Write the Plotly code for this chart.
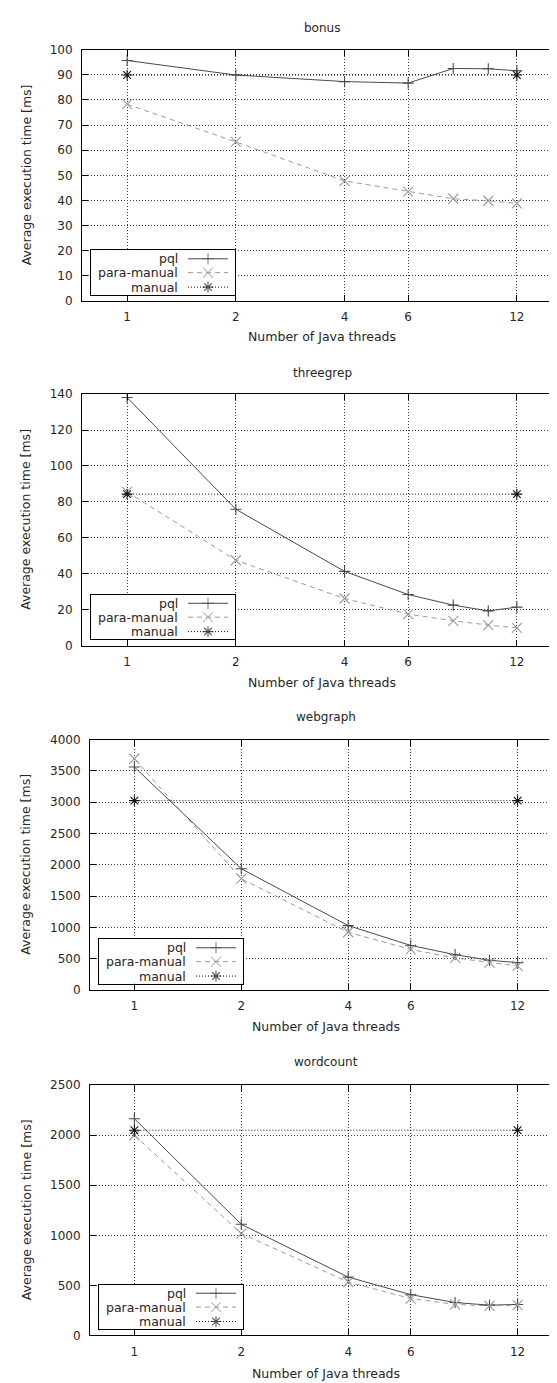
import math
import plotly.graph_objects as go

# ---------------- data ----------------
threads = [1, 2, 4, 6, 8, 10, 12]
manual_threads = [1, 12]
x_tickvals = [1, 2, 4, 6, 12]
x_ticktext = ["1", "2", "4", "6", "12"]

panel_titles = ["bonus", "threegrep", "webgraph", "wordcount"]
series_names = ["pql", "para-manual", "manual"]

bonus_pql = [95.7, 89.9, 87.3, 86.7, 92.5, 92.4, 91.6]
bonus_para = [78.3, 63.3, 47.8, 43.5, 40.7, 39.9, 38.9]
bonus_manual = [89.9, 89.9]

threegrep_pql = [138.1, 75.9, 41.3, 28.4, 22.5, 19.3, 21.4]
threegrep_para = [85.6, 47.5, 26.2, 17.5, 13.8, 11.4, 9.9]
threegrep_manual = [84.3, 84.3]

webgraph_pql = [3562, 1937, 1029, 712, 565, 475, 438]
webgraph_para = [3694, 1778, 923, 649, 512, 438, 385]
webgraph_manual = [3025, 3025]

wordcount_pql = [2164, 1110, 583, 408, 329, 303, 310]
wordcount_para = [1999, 1018, 534, 369, 310, 296, 303]
wordcount_manual = [2049, 2049]

y_max = [100, 140, 4000, 2500]
y_dtick = [10, 20, 500, 500]

x_label = "Number of Java threads"
y_label = "Average execution time [ms]"

# ---------------- layout geometry (pixels) ----------------
W, H = 557, 1383
plot_left = [74, 74, 82, 82]
plot_right = [554, 554, 554, 554]
plot_top = [35, 383, 732, 1081]
plot_bottom = [289, 637, 985, 1334]
title_y = [13, 362, 709, 1058]
xlabel_y = [325, 674, 1022, 1372]
ylabel_x = 18

LEG_W, LEG_H = 144, 45
LEG_DX, LEG_DY = 8.5, 6.5
LEG_TEXT_X = 89.5
LEG_LINE = (97.5, 137.5)
LEG_ROWS = [36.2, 22.2, 7.6]

FONT = "DejaVu Sans"
TXT = "#262626"
C_PQL = "#4a4a4a"
C_PARA = "#9a9a9a"
C_MAN = "#111111"
GRID = "#3c3c3c"

styles = [
    dict(color=C_PQL, dash="solid", symbol="cross-thin", size=8),
    dict(color=C_PARA, dash="5px,4px", symbol="x-thin", size=10),
    dict(color=C_MAN, dash="1px,2px", symbol="asterisk", size=9),
]

def fx(p):
    return p / W

def fy(p):
    return 1 - p / H

data_sets = [
    (bonus_pql, bonus_para, bonus_manual),
    (threegrep_pql, threegrep_para, threegrep_manual),
    (webgraph_pql, webgraph_para, webgraph_manual),
    (wordcount_pql, wordcount_para, wordcount_manual),
]

fig = go.Figure()
layout = dict(
    width=W, height=H,
    margin=dict(l=0, r=0, t=0, b=0),
    paper_bgcolor="white", plot_bgcolor="white",
    showlegend=False,
    font=dict(family=FONT, size=12.5, color=TXT),
)
annotations = []

xr = [math.log10(0.75), math.log10(16)]

for i in range(4):
    n = i + 1
    ln = i + 5
    xs = "" if n == 1 else str(n)
    ys = "" if n == 1 else str(n)
    pql, para, man = data_sets[i]

    layout["xaxis" + xs] = dict(
        domain=[fx(plot_left[i]), fx(plot_right[i])],
        anchor="y" + ys, type="log", range=xr,
        tickmode="array", tickvals=x_tickvals, ticktext=x_ticktext,
        ticks="inside", ticklen=6, tickcolor="#000", tickwidth=1,
        showline=True, linecolor="#000", linewidth=1, mirror="ticks",
        showgrid=True, gridcolor=GRID, gridwidth=1, griddash="1px,2px",
        zeroline=False, tickfont=dict(family=FONT, size=12, color=TXT),
        ticklabelstandoff=5, fixedrange=True,
    )
    layout["yaxis" + ys] = dict(
        domain=[fy(plot_bottom[i]), fy(plot_top[i])],
        anchor="x" + xs, range=[0, y_max[i]],
        tickmode="linear", tick0=0, dtick=y_dtick[i], tickformat="d",
        ticks="inside", ticklen=6, tickcolor="#000", tickwidth=1,
        showline=True, linecolor="#000", linewidth=1, mirror="ticks",
        showgrid=True, gridcolor=GRID, gridwidth=1, griddash="1px,2px",
        zeroline=False, tickfont=dict(family=FONT, size=12, color=TXT),
        ticklabelstandoff=6, fixedrange=True,
    )

    series = [(threads, pql), (threads, para), (manual_threads, man)]
    for k, (xv, yv) in enumerate(series):
        st = styles[k]
        fig.add_trace(go.Scatter(
            x=xv, y=yv, mode="lines+markers", name=series_names[k],
            xaxis="x" + xs, yaxis="y" + ys,
            line=dict(color=st["color"], width=1, dash=st["dash"]),
            marker=dict(symbol=st["symbol"], size=st["size"],
                        color=st["color"],
                        line=dict(color=st["color"], width=1.1)),
            hoverinfo="skip",
        ))

    # legend box (its own small subplot, opaque)
    lx0 = plot_left[i] + LEG_DX
    ly1 = plot_bottom[i] - LEG_DY
    layout["xaxis%d" % ln] = dict(
        domain=[fx(lx0), fx(lx0 + LEG_W)], anchor="y%d" % ln,
        range=[0, LEG_W], showline=True, mirror=True, linecolor="#000",
        linewidth=1, showgrid=False, zeroline=False, showticklabels=False,
        ticks="", fixedrange=True,
    )
    layout["yaxis%d" % ln] = dict(
        domain=[fy(ly1), fy(ly1 - LEG_H)], anchor="x%d" % ln,
        range=[0, LEG_H], showline=True, mirror=True, linecolor="#000",
        linewidth=1, showgrid=False, zeroline=False, showticklabels=False,
        ticks="", fixedrange=True,
    )
    for k in range(3):
        st = styles[k]
        mid = (LEG_LINE[0] + LEG_LINE[1]) / 2
        fig.add_trace(go.Scatter(
            x=[LEG_LINE[0], mid, LEG_LINE[1]],
            y=[LEG_ROWS[k]] * 3,
            mode="lines+markers", xaxis="x%d" % ln, yaxis="y%d" % ln,
            line=dict(color=st["color"], width=1, dash=st["dash"]),
            marker=dict(symbol=st["symbol"], size=[0, st["size"], 0],
                        color=st["color"],
                        line=dict(color=st["color"], width=1.1)),
            hoverinfo="skip", cliponaxis=False,
        ))
        annotations.append(dict(
            x=LEG_TEXT_X, y=LEG_ROWS[k], xref="x%d" % ln, yref="y%d" % ln,
            text=series_names[k], showarrow=False, xanchor="right",
            yanchor="middle", font=dict(family=FONT, size=12.5, color=TXT),
        ))

    cx = (plot_left[i] + plot_right[i]) / 2
    annotations.append(dict(
        x=fx(cx), y=fy(title_y[i]), xref="paper", yref="paper",
        text=panel_titles[i], showarrow=False, xanchor="center",
        yanchor="middle", font=dict(family=FONT, size=12, color=TXT),
    ))
    annotations.append(dict(
        x=fx(cx), y=fy(xlabel_y[i]), xref="paper", yref="paper",
        text=x_label, showarrow=False, xanchor="center",
        yanchor="middle", font=dict(family=FONT, size=12.5, color=TXT),
    ))
    annotations.append(dict(
        x=fx(ylabel_x), y=fy((plot_top[i] + plot_bottom[i]) / 2),
        xref="paper", yref="paper", text=y_label, textangle=-90,
        showarrow=False, xanchor="center", yanchor="middle",
        font=dict(family=FONT, size=12.5, color=TXT),
    ))

layout["annotations"] = annotations
fig.update_layout(**layout)
fig.write_html("out.html")
